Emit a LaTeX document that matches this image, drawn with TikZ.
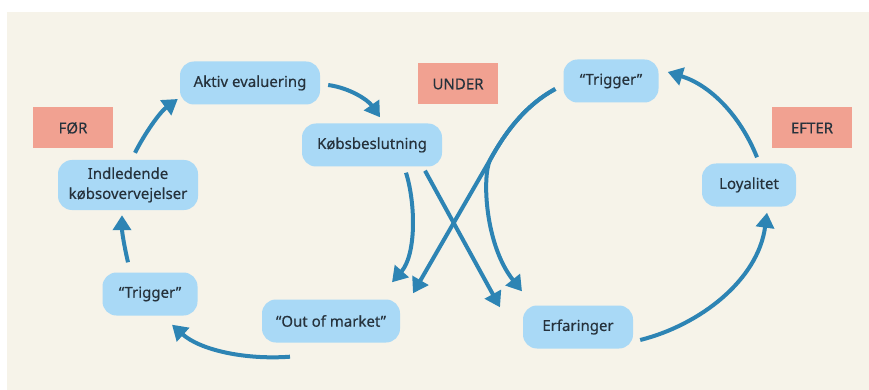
\documentclass[tikz,border=0pt]{standalone}
\usepackage{fontspec}
\setmainfont[FakeBold=0.4]{Noto Sans}
\usetikzlibrary{arrows.meta,calc}
\definecolor{bgbeige}{HTML}{F6F3E9}
\definecolor{boxblue}{HTML}{A9D9F6}
\definecolor{arrowblue}{HTML}{2D84B4}
\definecolor{tagsalmon}{HTML}{F1A191}
\definecolor{inkdark}{HTML}{26323C}

\begin{document}
\begin{tikzpicture}[x=1pt,y=-1pt,
  stage/.style={fill=boxblue, rounded corners=14pt, text=inkdark,
    font=\fontsize{15}{20}\selectfont, align=center, inner sep=0pt,
    minimum height=43pt},
  phase/.style={fill=tagsalmon, text=inkdark, font=\fontsize{15}{18}\selectfont,
    minimum width=80pt, minimum height=41pt, inner sep=0pt},
  flow/.style={draw=arrowblue, line width=4pt,
    -{Triangle[width=18pt,length=15pt]}}
]
\useasboundingbox (0,0) rectangle (869,390);
\fill[white] (0,0) rectangle (869,390);
\fill[bgbeige] (7,12) rectangle (869,390);

% phase tags
\node[phase] (foer)  at (73,128)  {FØR};
\node[phase] (under) at (458,84)  {UNDER};
\node[phase] (efter) at (812,128) {EFTER};

% stages of the journey
\node[stage, minimum width=140pt] (aktiv) at (250,83)  {Aktiv evaluering};
\node[stage, minimum width=140pt] (kob)   at (372,145) {Købsbeslutning};
\node[stage, minimum width=140pt, minimum height=50pt] (indl) at (128,185)
  {Indledende\\købsovervejelser};
\node[stage, minimum width=95pt]  (trigL) at (150,294) {“Trigger”};
\node[stage, minimum width=138pt] (out)   at (331,321) {“Out of market”};
\node[stage, minimum width=110pt] (erf)   at (578,327) {Erfaringer};
\node[stage, minimum width=94pt]  (loy)   at (749,185) {Loyalitet};
\node[stage, minimum width=95pt]  (trigR) at (611,81)  {“Trigger”};

% left loop
\draw[flow] ($(indl.north)+(7,-7)$) .. controls (145,133) and (160,112) ..
  ($(aktiv.west)+(-2,16)$);
\draw[flow] ($(aktiv.east)+(8,2)$) .. controls (350,88) and (368,100) ..
  ($(kob.north)+(8,-6)$);
\draw[flow] ($(trigL.north)+(-22,-10)$) .. controls (124,245) and (122,232) ..
  ($(indl.south)+(-6,5)$);
\draw[flow] ($(out.south)+(-41,14)$) .. controls (245,360) and (200,350) ..
  ($(trigL.south)+(22,9)$);

% right loop
\draw[flow] ($(erf.east)+(7,13)$) .. controls (700,325) and (758,280) ..
  ($(loy.south)+(18,6)$);
\draw[flow] ($(loy.north)+(8,-6)$) .. controls (740,115) and (710,85) ..
  ($(trigR.east)+(9,-9)$);

% crossing in the middle
\draw[flow] ($(kob.south)+(34,6)$) .. controls (416,205) and (416,255) ..
  ($(out.north)+(61,-17)$);
\draw[flow] ($(kob.south)+(53,4)$) -- ($(erf.north)+(-78,2)$);

\coordinate (fork) at (490,160);
\draw[flow] ($(trigR.west)+(-8,8)$) .. controls (520,108) and (500,142) ..
  (fork) -- ($(out.north)+(82,-6)$);
\draw[flow] ($(trigR.west)+(-8,8)$) .. controls (520,108) and (500,142) ..
  (fork) .. controls (482,177) and (485,245) .. ($(erf.north)+(-56,-14)$);
\end{tikzpicture}
\end{document}
